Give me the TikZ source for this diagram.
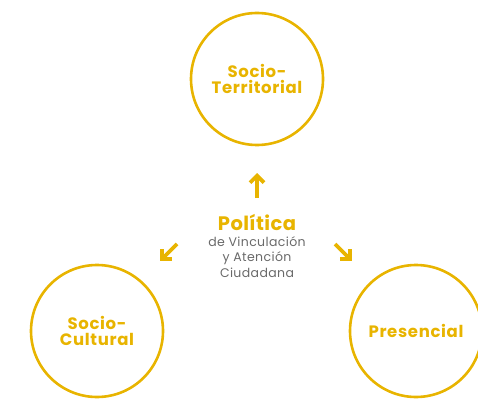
\documentclass[tikz,border=0pt]{standalone}
\usepackage{fontspec}
\setmainfont{Poppins}
\usetikzlibrary{arrows.meta}
\definecolor{gold}{RGB}{232,180,0}
\definecolor{txtgray}{RGB}{105,105,105}
\tikzset{
  ring/.style={draw=gold,line width=2.6pt,circle,minimum size=132pt,inner sep=0pt,
    text=gold,font=\fontsize{16.5}{15.5}\selectfont\bfseries\addfontfeatures{LetterSpace=4},align=center},
  pointer/.style={draw=gold,line width=3.8pt,-{Straight Barb[length=7pt,width=14pt,line width=3.8pt]}},
}
\begin{document}
\begin{tikzpicture}[x=1pt,y=-1pt]
\useasboundingbox (0,0) rectangle (478,398);
\node[ring] (top) at (257,79) {Socio-\\Territorial};
\node[ring] (left) at (97,331) {Socio-\\Cultural};
\node[ring] (right) at (416,331) {Presencial};
\node[text=gold,font=\fontsize{19.5}{20}\selectfont\bfseries\addfontfeatures{LetterSpace=2}] (pol) at (257,222) {Política};
\node[text=txtgray,font=\fontsize{12.5}{15.5}\selectfont\addfontfeatures{LetterSpace=3},align=center,anchor=north] (sub) at (257,233) {de Vinculación\\y Atención\\Ciudadana};
\coordinate (ua) at (257,198); \coordinate (ub) at (257,173);
\coordinate (la) at (177,244); \coordinate (lb) at (160,261);
\coordinate (ra) at (335,244); \coordinate (rb) at (352,261);
\draw[pointer] (ua) -- (ub);
\draw[pointer] (la) -- (lb);
\draw[pointer] (ra) -- (rb);
\end{tikzpicture}
\end{document}
